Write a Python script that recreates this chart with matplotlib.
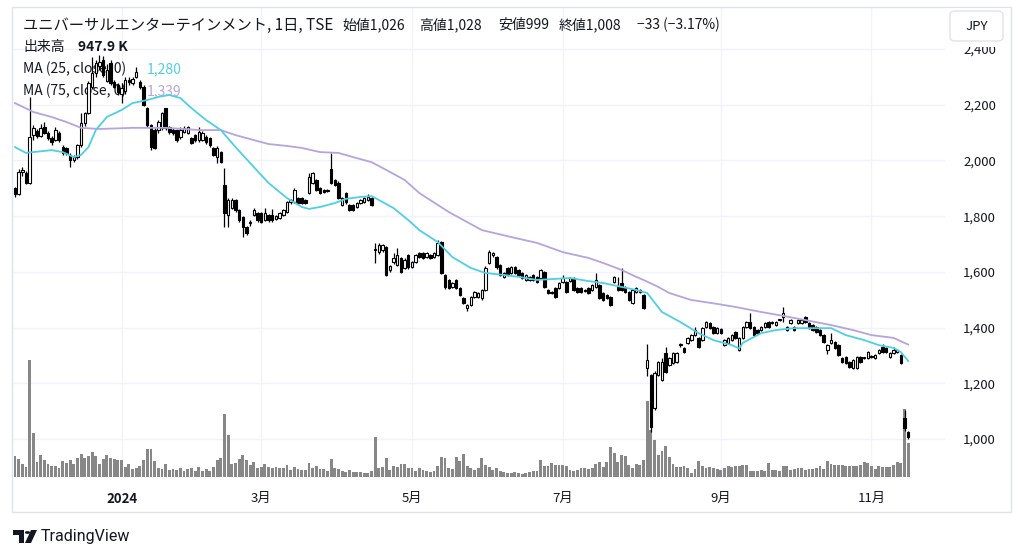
import matplotlib
matplotlib.use("Agg")
import matplotlib.pyplot as plt
from matplotlib.patches import Rectangle, FancyBboxPatch, Polygon, Circle
import numpy as np

# ==============================
# DATA
# ==============================
opens = [1900, 1880, 1958, 1955, 1920, 2090, 2105, 2088, 2120, 2098, 2082, 2075, 2100, 2048, 2045, 2020, 2003, 2012, 2055, 2134,
         2170, 2264, 2314, 2340, 2360, 2285, 2350, 2282, 2270, 2240, 2250, 2290, 2278, 2300, 2282, 2264, 2188, 2127, 2110, 2110,
         2117, 2188, 2120, 2110, 2110, 2084, 2102, 2100, 2080, 2090, 2073, 2073, 2084, 2080, 2045, 2012, 2030, 1912, 1804, 1830,
         1858, 1822, 1797, 1761, 1775, 1804, 1811, 1811, 1786, 1804, 1804, 1790, 1793, 1804, 1815, 1850, 1850, 1865, 1865, 1858,
         1884, 1920, 1930, 1900, 1894, 1894, 1970, 1930, 1920, 1840, 1883, 1840, 1840, 1833, 1847, 1851, 1858, 1865, 1680, 1671,
         1678, 1689, 1607, 1635, 1625, 1650, 1614, 1660, 1617, 1635, 1668, 1668, 1653, 1660, 1653, 1660, 1707, 1589, 1570, 1546,
         1570, 1542, 1506, 1470, 1481, 1510, 1510, 1506, 1535, 1632, 1660, 1653, 1625, 1582, 1614, 1596, 1617, 1607, 1596, 1571,
         1571, 1589, 1582, 1578, 1600, 1535, 1524, 1542, 1542, 1564, 1564, 1567, 1578, 1542, 1542, 1535, 1542, 1535, 1546, 1553,
         1524, 1517, 1510, 1564, 1546, 1560, 1546, 1528, 1488, 1528, 1528, 1517, 1255, 1230, 1111, 1230, 1212, 1309, 1266, 1273,
         1276, 1337, 1327, 1345, 1355, 1373, 1363, 1355, 1402, 1416, 1402, 1380, 1395, 1337, 1345, 1355, 1384, 1320, 1363, 1402,
         1420, 1402, 1391, 1391, 1402, 1420, 1416, 1409, 1427, 1438, 1391, 1416, 1402, 1416, 1416, 1438, 1416, 1409, 1402, 1391,
         1373, 1320, 1345, 1348, 1337, 1291, 1294, 1276, 1255, 1255, 1294, 1291, 1291, 1294, 1291, 1309, 1330, 1327, 1294, 1309,
         1312, 1302, 1075, 1026]
highs = [1905, 1968, 1975, 1962, 2228, 2127, 2112, 2130, 2138, 2106, 2088, 2120, 2105, 2055, 2050, 2025, 2020, 2058, 2170, 2175,
         2285, 2371, 2360, 2378, 2375, 2345, 2360, 2290, 2278, 2278, 2300, 2300, 2300, 2335, 2290, 2270, 2192, 2130, 2115, 2145,
         2175, 2190, 2125, 2115, 2112, 2120, 2122, 2125, 2085, 2095, 2120, 2105, 2090, 2084, 2050, 2052, 2035, 1973, 1865, 1865,
         1862, 1826, 1800, 1765, 1785, 1829, 1815, 1815, 1829, 1808, 1825, 1805, 1815, 1826, 1855, 1862, 1900, 1870, 1868, 1862,
         1955, 1958, 1935, 1905, 1898, 1897, 2025, 1935, 1925, 1870, 1888, 1845, 1843, 1850, 1862, 1868, 1880, 1868, 1703, 1703,
         1700, 1692, 1625, 1668, 1685, 1655, 1648, 1665, 1640, 1665, 1672, 1672, 1672, 1664, 1672, 1714, 1710, 1593, 1575, 1565,
         1575, 1546, 1510, 1485, 1515, 1532, 1528, 1540, 1620, 1678, 1672, 1657, 1628, 1600, 1618, 1621, 1620, 1610, 1600, 1593,
         1585, 1592, 1585, 1610, 1604, 1538, 1532, 1546, 1564, 1590, 1568, 1582, 1582, 1546, 1546, 1540, 1546, 1557, 1596, 1557,
         1528, 1521, 1514, 1586, 1582, 1614, 1550, 1532, 1539, 1546, 1539, 1521, 1341, 1235, 1245, 1280, 1290, 1330, 1295, 1312,
         1312, 1345, 1331, 1366, 1376, 1402, 1367, 1402, 1424, 1420, 1406, 1402, 1399, 1359, 1367, 1377, 1388, 1367, 1406, 1424,
         1452, 1406, 1395, 1406, 1420, 1424, 1422, 1424, 1432, 1474, 1406, 1431, 1406, 1431, 1431, 1442, 1420, 1413, 1406, 1395,
         1377, 1341, 1380, 1352, 1341, 1295, 1298, 1280, 1288, 1298, 1298, 1295, 1316, 1300, 1306, 1324, 1340, 1331, 1313, 1330,
         1324, 1306, 1105, 1028]
lows = [1870, 1875, 1945, 1915, 1915, 2073, 2080, 2083, 2095, 2075, 2055, 2070, 2065, 2020, 2020, 1976, 1995, 2005, 2050, 2125,
        2165, 2255, 2300, 2325, 2300, 2280, 2270, 2260, 2235, 2206, 2240, 2270, 2270, 2295, 2258, 2195, 2120, 2037, 2040, 2100,
        2110, 2110, 2095, 2092, 2068, 2078, 2098, 2095, 2058, 2068, 2068, 2070, 2060, 2050, 2015, 1990, 1990, 1761, 1760, 1825,
        1815, 1780, 1725, 1733, 1765, 1800, 1780, 1775, 1782, 1780, 1780, 1785, 1790, 1800, 1812, 1845, 1848, 1842, 1842, 1843,
        1880, 1915, 1890, 1878, 1883, 1886, 1915, 1908, 1860, 1835, 1845, 1818, 1818, 1830, 1843, 1848, 1855, 1835, 1632, 1665,
        1672, 1585, 1600, 1630, 1620, 1596, 1610, 1612, 1613, 1632, 1650, 1646, 1650, 1646, 1650, 1656, 1592, 1540, 1538, 1542,
        1538, 1513, 1484, 1460, 1477, 1506, 1506, 1500, 1530, 1628, 1655, 1612, 1585, 1578, 1585, 1592, 1592, 1585, 1574, 1567,
        1567, 1567, 1560, 1574, 1542, 1520, 1520, 1506, 1538, 1560, 1524, 1563, 1531, 1524, 1524, 1528, 1520, 1531, 1542, 1502,
        1495, 1502, 1477, 1560, 1531, 1531, 1524, 1495, 1484, 1524, 1524, 1466, 1226, 1025, 1105, 1225, 1208, 1236, 1262, 1270,
        1272, 1330, 1308, 1341, 1351, 1369, 1326, 1351, 1398, 1394, 1376, 1376, 1376, 1333, 1341, 1351, 1359, 1315, 1359, 1398,
        1394, 1369, 1376, 1387, 1398, 1398, 1412, 1405, 1423, 1420, 1387, 1412, 1387, 1412, 1412, 1416, 1394, 1387, 1380, 1369,
        1344, 1305, 1341, 1323, 1298, 1272, 1269, 1254, 1251, 1251, 1272, 1287, 1287, 1290, 1287, 1305, 1308, 1308, 1290, 1305,
        1308, 1269, 1030, 999]
closes = [1878, 1960, 1965, 1920, 2085, 2115, 2086, 2118, 2100, 2080, 2066, 2110, 2075, 2026, 2026, 2003, 2012, 2055, 2134, 2170,
          2278, 2314, 2350, 2355, 2307, 2325, 2278, 2264, 2245, 2260, 2290, 2280, 2292, 2318, 2264, 2199, 2127, 2048, 2045, 2138,
          2170, 2117, 2102, 2098, 2073, 2110, 2117, 2120, 2063, 2073, 2102, 2098, 2066, 2055, 2020, 2045, 1995, 1811, 1858, 1858,
          1822, 1786, 1761, 1740, 1776, 1822, 1786, 1779, 1811, 1786, 1786, 1800, 1810, 1822, 1850, 1858, 1894, 1847, 1847, 1847,
          1941, 1955, 1894, 1883, 1887, 1890, 1920, 1912, 1865, 1865, 1850, 1822, 1822, 1847, 1858, 1865, 1868, 1840, 1678, 1696,
          1696, 1589, 1621, 1650, 1660, 1600, 1643, 1617, 1635, 1660, 1653, 1650, 1668, 1650, 1668, 1703, 1596, 1546, 1542, 1560,
          1542, 1517, 1488, 1481, 1510, 1528, 1524, 1535, 1614, 1671, 1668, 1617, 1589, 1596, 1589, 1617, 1596, 1589, 1578, 1589,
          1582, 1571, 1564, 1607, 1546, 1524, 1528, 1510, 1560, 1578, 1528, 1578, 1535, 1528, 1528, 1532, 1524, 1553, 1571, 1506,
          1499, 1506, 1481, 1582, 1535, 1535, 1528, 1499, 1535, 1542, 1535, 1470, 1284, 1043, 1237, 1276, 1276, 1240, 1291, 1309,
          1309, 1340, 1312, 1363, 1373, 1391, 1330, 1398, 1420, 1398, 1380, 1398, 1380, 1355, 1363, 1373, 1363, 1363, 1402, 1420,
          1398, 1373, 1380, 1402, 1416, 1402, 1418, 1420, 1428, 1452, 1402, 1427, 1391, 1427, 1427, 1420, 1398, 1391, 1384, 1373,
          1348, 1337, 1355, 1327, 1302, 1276, 1273, 1258, 1284, 1294, 1276, 1291, 1312, 1296, 1302, 1320, 1312, 1312, 1309, 1320,
          1320, 1273, 1041, 1008]
volume_k = [580, 515, 375, 281, 3280, 1250, 421, 609, 487, 356, 318, 300, 253, 440, 403, 468, 356, 543, 656, 543,
            581, 703, 581, 375, 515, 628, 543, 515, 487, 468, 281, 356, 225, 244, 300, 468, 797, 787, 440, 262,
            234, 356, 187, 234, 206, 253, 159, 215, 262, 169, 281, 159, 234, 159, 281, 487, 525, 1760, 1190, 356,
            403, 496, 609, 468, 347, 412, 262, 281, 375, 271, 253, 281, 253, 253, 337, 187, 281, 234, 187, 187,
            403, 262, 300, 215, 215, 159, 515, 244, 225, 169, 150, 187, 131, 131, 131, 112, 112, 169, 1120, 262,
            281, 543, 206, 318, 281, 356, 356, 244, 244, 159, 262, 187, 159, 131, 169, 300, 562, 543, 262, 225,
            562, 450, 637, 300, 262, 206, 262, 543, 347, 281, 187, 253, 159, 140, 122, 112, 131, 112, 94, 112,
            131, 159, 169, 487, 318, 318, 403, 328, 347, 347, 318, 187, 169, 187, 253, 253, 225, 253, 375, 421,
            281, 421, 843, 674, 421, 628, 581, 328, 262, 356, 328, 468, 2130, 1310, 1030, 609, 721, 861, 562, 356,
            281, 281, 300, 253, 112, 234, 450, 300, 262, 281, 253, 234, 206, 244, 300, 281, 309, 309, 347, 347,
            159, 169, 169, 206, 169, 393, 187, 187, 159, 300, 300, 187, 234, 253, 253, 206, 234, 234, 253, 300,
            234, 440, 356, 347, 347, 347, 300, 300, 318, 300, 347, 412, 393, 300, 234, 300, 281, 281, 281, 328,
            421, 403, 1920, 948]

# moving averages, read at bar positions
ma25_idx = [0, 3, 5, 10, 13, 16, 18, 20, 22, 25, 29, 32, 36, 39, 42, 45, 48, 52, 56, 60, 65, 69, 74, 78, 80, 83, 87,
            90, 94, 97, 99, 103, 107, 110, 115, 119, 124, 128, 133, 137, 142, 146, 151, 156, 160, 165, 169, 172, 176,
            181, 186, 190, 195, 197, 198, 203, 207, 212, 215, 219, 222, 226, 231, 235, 239, 241, 243]
ma25_val = [2048, 2027, 2030, 2037, 2030, 2012, 2020, 2048, 2109, 2156, 2181, 2206, 2217, 2228, 2235, 2224, 2188, 2145,
            2109, 2048, 1976, 1919, 1865, 1833, 1826, 1833, 1847, 1862, 1869, 1872, 1858, 1829, 1786, 1750, 1707, 1653,
            1614, 1596, 1589, 1582, 1571, 1574, 1578, 1567, 1560, 1546, 1535, 1524, 1456, 1420, 1380, 1355, 1337, 1325,
            1345, 1380, 1391, 1398, 1398, 1398, 1398, 1373, 1355, 1337, 1327, 1312, 1280]
ma75_idx = [0, 5, 10, 14, 18, 23, 32, 37, 41, 46, 50, 56, 60, 65, 69, 74, 78, 83, 88, 92, 97, 101, 106, 110, 118, 127,
            135, 142, 149, 156, 160, 165, 169, 171, 175, 178, 184, 191, 196, 203, 209, 215, 222, 228, 233, 239, 243]
ma75_val = [2206, 2174, 2156, 2138, 2117, 2113, 2117, 2117, 2117, 2113, 2109, 2109, 2091, 2073, 2059, 2052, 2045, 2030,
            2027, 2012, 1994, 1966, 1930, 1883, 1815, 1750, 1725, 1704, 1671, 1650, 1632, 1607, 1582, 1571, 1546, 1524,
            1499, 1485, 1474, 1456, 1442, 1427, 1409, 1391, 1373, 1363, 1339]

month_idx = [29, 67, 108, 149, 192, 233]
month_labels = ["2024", "3月", "5月", "7月", "9月", "11月"]
price_ticks = [1000, 1200, 1400, 1600, 1800, 2000, 2200, 2400]

# ==============================
# LAYOUT
# ==============================
W, H = 1024, 557
JP = ["Noto Sans CJK JP", "DejaVu Sans"]
TXT = "#131722"
C25 = "#4fcfe3"
C75 = "#b7a3de"
plt.rcParams["font.family"] = JP

fig = plt.figure(figsize=(W / 100, H / 100), dpi=100)
fig.patch.set_facecolor("white")

def fx(px):
    return px / W

def fy(py):
    return 1 - py / H

PL, PR, PT, PB = 12, 945, 7, 477
rect = [fx(PL), fy(PB), (PR - PL) / W, (PB - PT) / H]
XLIM = (-0.8, 253)

# price <-> pixel: 1,000 at y=439, 3.59 yen per px
p_top = 1000 + (439 - PT) * 3.59
p_bot = 1000 + (439 - PB) * 3.59
v_top = (PB - PT) * 28.1 * 1000  # 28.1K per px

n = len(closes)
idx = np.arange(n)
o = np.array(opens); c = np.array(closes); hi = np.array(highs); lo = np.array(lows)

# volume / grid axes (behind)
axv = fig.add_axes(rect)
axv.set_xlim(*XLIM)
axv.set_ylim(0, v_top)
for m in month_idx:
    axv.axvline(m, color="#f0f3fa", lw=1, zorder=0)
for p in price_ticks:
    axv.axhline((p - p_bot) / (p_top - p_bot) * v_top, color="#f0f3fa", lw=1, zorder=0)
axv.bar(idx, np.array(volume_k) * 1000, width=0.78, color="#878787", zorder=1, linewidth=0)
axv.axis("off")

# price axes (front)
ax = fig.add_axes(rect)
ax.patch.set_visible(False)
ax.set_xlim(*XLIM)
ax.set_ylim(p_bot, p_top)
for s in ax.spines.values():
    s.set_visible(False)

up = c >= o
ax.vlines(idx, lo, hi, color="black", lw=0.9, zorder=3)
body_lo = np.minimum(o, c)
body_h = np.maximum(np.abs(c - o), 3)
ax.bar(idx[up], body_h[up], bottom=body_lo[up], width=0.66, facecolor="white",
       edgecolor="black", linewidth=0.8, zorder=4)
ax.bar(idx[~up], body_h[~up], bottom=body_lo[~up], width=0.66, facecolor="black",
       edgecolor="black", linewidth=0.8, zorder=4)

ax.plot(ma75_idx, ma75_val, color=C75, lw=1.3, zorder=5)
ax.plot(ma25_idx, ma25_val, color=C25, lw=1.3, zorder=5)

ax.yaxis.tick_right()
ax.set_yticks(price_ticks)
ax.set_yticklabels([f"{p:,}" for p in price_ticks])
ax.tick_params(axis="y", length=0, pad=13, labelsize=9.5, labelcolor=TXT)
ax.set_xticks(month_idx)
ax.set_xticklabels(month_labels)
ax.tick_params(axis="x", length=0, pad=11, labelsize=9.5, labelcolor=TXT)
ax.get_xticklabels()[0].set_fontweight("bold")

# ==============================
# LEGEND TEXT
# ==============================
def t(x, y, s, **kw):
    kw.setdefault("color", TXT)
    kw.setdefault("fontsize", 10)
    ax.text(fx(x), fy(y), s, transform=fig.transFigure, va="center", ha="left",
            zorder=2, **kw)

t(23, 25, "ユニバーサルエンターテインメント, 1日, TSE", fontsize=11)
t(342, 25, "始値1,026")
t(419, 25, "高値1,028")
t(498, 25, "安値999")
t(559, 25, "終値1,008")
t(637, 25, "−33 (−3.17%)")
t(23, 47, "出来高")
t(78, 47, "947.9 K", fontweight="bold")
t(23, 69, "MA (25, close, 0)")
t(147, 69, "1,280", color=C25)
t(23, 91, "MA (75, close, 0)")
t(147, 91, "1,339", color=C75)

# ==============================
# FRAME, CURRENCY BOX, LOGO
# ==============================
fig.add_artist(Rectangle((fx(12), fy(512)), fx(1011) - fx(12), fy(7) - fy(512),
                         transform=fig.transFigure, fill=False, edgecolor="#e0e3eb", lw=1, zorder=6))
fig.add_artist(Rectangle((fx(946), fy(47)), fx(1010) - fx(946), fy(8) - fy(47),
                         transform=fig.transFigure, facecolor="white", edgecolor="none", zorder=6))
fig.add_artist(FancyBboxPatch((fx(950), fy(41)), fx(1003) - fx(950), fy(11) - fy(41),
                              boxstyle="round,pad=0,rounding_size=0.006", transform=fig.transFigure,
                              facecolor="white", edgecolor="#e0e3eb", lw=1, zorder=7))
fig.text(fx(976.5), fy(26), "JPY", ha="center", va="center", fontsize=9.5, color=TXT, zorder=8)

def poly(pts):
    fig.add_artist(Polygon([(fx(a), fy(b)) for a, b in pts], closed=True, transform=fig.transFigure,
                           facecolor=TXT, edgecolor="none", zorder=8))

poly([(13, 530), (24, 530), (24, 543), (19, 543), (19, 535), (13, 535)])
fig.add_artist(Circle((fx(27.5), fy(532.5)), 2.6 / W, transform=fig.transFigure, facecolor=TXT,
                      edgecolor="none", zorder=8))
poly([(31, 530), (37, 530), (31, 543), (25, 543)])
fig.text(fx(41), fy(537), "TradingView", ha="left", va="center", fontsize=11.5, color=TXT,
         family="Roboto")

fig.savefig("out.png", dpi=100)
